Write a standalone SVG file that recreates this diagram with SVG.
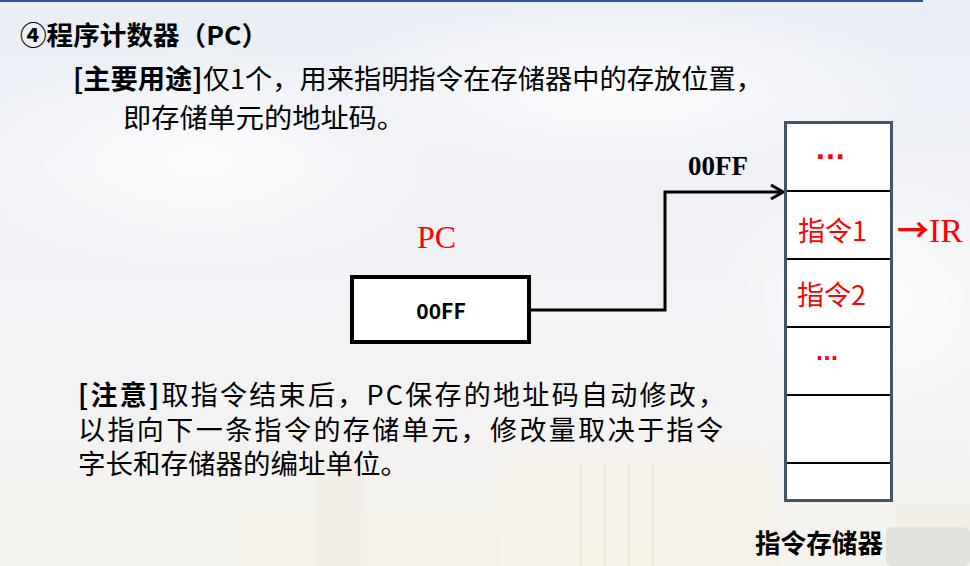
<svg xmlns="http://www.w3.org/2000/svg" width="970" height="566" viewBox="0 0 970 566">
  <defs>
    <linearGradient id="sky" x1="0" y1="0" x2="0" y2="1">
      <stop offset="0" stop-color="#eaeef5"/>
      <stop offset="0.55" stop-color="#f2f3f6"/>
      <stop offset="1" stop-color="#f4f2ed"/>
    </linearGradient>
    <radialGradient id="cloud" cx="0.5" cy="0.5" r="0.5">
      <stop offset="0" stop-color="#ffffff" stop-opacity="0.8"/>
      <stop offset="1" stop-color="#ffffff" stop-opacity="0"/>
    </radialGradient>
    <linearGradient id="fadeUp" x1="0" y1="0" x2="0" y2="1">
      <stop offset="0" stop-color="#f7f1e2" stop-opacity="0"/>
      <stop offset="1" stop-color="#f7f1e2" stop-opacity="1"/>
    </linearGradient>
    <marker id="chevron" viewBox="0 0 14 16" refX="13" refY="8" markerWidth="14" markerHeight="16" markerUnits="userSpaceOnUse" orient="auto">
      <polyline points="1,1 13,8 1,15" fill="none" stroke="#000" stroke-width="3"/>
    </marker>
    <style>
      .cjk { font-family: "Noto Sans CJK SC", "Noto Sans", sans-serif; }
      .body { font-size: 27px; fill: #000; }
      .b { font-weight: bold; }
      .red { fill: #ff0000; }
      .serif { font-family: "Liberation Serif", "Times New Roman", serif; }
      .cellLine { stroke: #000; stroke-width: 2; }
      .dots { font-family: "Liberation Sans", Arial, sans-serif; font-weight: bold; fill: #ff0000; }
    </style>
  </defs>

  <!-- backdrop: hazy sky with faint campus buildings at the bottom -->
  <rect x="0" y="0" width="970" height="566" fill="url(#sky)"/>
  <ellipse cx="200" cy="160" rx="260" ry="110" fill="url(#cloud)"/>
  <ellipse cx="620" cy="90" rx="300" ry="90" fill="url(#cloud)"/>
  <ellipse cx="880" cy="300" rx="160" ry="140" fill="url(#cloud)"/>
  <g opacity="0.6">
    <rect x="240" y="470" width="540" height="96" fill="url(#fadeUp)"/>
    <rect x="500" y="452" width="270" height="114" fill="#f8f3e6" opacity="0.7"/>
    <rect x="316" y="462" width="50" height="104" fill="#f0ebde" opacity="0.7"/>
    <rect x="580" y="462" width="2" height="104" fill="#ebe3d0"/>
    <rect x="604" y="462" width="2" height="104" fill="#ebe3d0"/>
    <rect x="628" y="462" width="2" height="104" fill="#ebe3d0"/>
    <rect x="652" y="462" width="2" height="104" fill="#ebe3d0"/>
    <rect x="886" y="527" width="84" height="39" rx="6" fill="#d6d6d4"/>
    <rect x="896" y="505" width="74" height="22" fill="#efebe2"/>
  </g>

  <!-- header rule -->
  <rect x="0" y="0" width="923" height="2" fill="#2f5597"/>

  <!-- heading and description -->
  <g id="heading">
    <text class="cjk b" x="20" y="45" font-size="26" textLength="248" lengthAdjust="spacingAndGlyphs">④程序计数器（PC）</text>
    <text class="cjk body" x="73" y="89" textLength="690" lengthAdjust="spacingAndGlyphs"><tspan class="b">[主要用途]</tspan>仅1个，用来指明指令在存储器中的存放位置，</text>
    <text class="cjk body" x="123" y="128" textLength="282" lengthAdjust="spacingAndGlyphs">即存储单元的地址码。</text>
  </g>

  <!-- note paragraph -->
  <g id="note">
    <text class="cjk body" x="78" y="405" textLength="647" lengthAdjust="spacing"><tspan class="b">[注意]</tspan>取指令结束后，PC保存的地址码自动修改，</text>
    <text class="cjk body" x="78" y="440" textLength="645" lengthAdjust="spacing">以指向下一条指令的存储单元，修改量取决于指令</text>
    <text class="cjk body" x="78" y="474" textLength="330" lengthAdjust="spacingAndGlyphs">字长和存储器的编址单位。</text>
  </g>

  <!-- program counter register -->
  <g id="pc">
    <text class="serif red" x="417" y="248" font-size="32">PC</text>
    <rect x="352" y="277" width="177" height="65" fill="#ffffff" stroke="#000" stroke-width="4"/>
    <text class="cjk b" x="441" y="319" font-size="21" text-anchor="middle">00FF</text>
  </g>

  <!-- instruction memory -->
  <g id="memory">
    <rect x="785.5" y="122.5" width="106" height="378" fill="#ffffff" stroke="#44546a" stroke-width="3"/>
    <line class="cellLine" x1="787" y1="191" x2="890" y2="191"/>
    <line class="cellLine" x1="787" y1="259" x2="890" y2="259"/>
    <line class="cellLine" x1="787" y1="327" x2="890" y2="327"/>
    <line class="cellLine" x1="787" y1="395" x2="890" y2="395"/>
    <line class="cellLine" x1="787" y1="463" x2="890" y2="463"/>
    <text class="dots" x="816" y="159" font-size="32" letter-spacing="1">...</text>
    <text class="cjk red" x="798" y="241" font-size="27">指令1</text>
    <text class="cjk red" x="797" y="305" font-size="27">指令2</text>
    <text class="dots" x="816" y="360" font-size="25" letter-spacing="0.5">...</text>
    <text class="cjk b" x="755" y="553" font-size="25.6" textLength="128" lengthAdjust="spacingAndGlyphs">指令存储器</text>
  </g>

  <!-- output to the instruction register -->
  <g id="ir">
    <text class="red" x="897" y="242" font-size="34"><tspan font-family="'Noto Sans CJK SC', sans-serif" font-weight="bold" font-size="32">→</tspan><tspan font-family="'Liberation Serif', 'Times New Roman', serif">IR</tspan></text>
  </g>

  <!-- address bus from PC to memory -->
  <g id="connectors">
    <path d="M529,310 H665 V192 H783" fill="none" stroke="#000" stroke-width="3" marker-end="url(#chevron)"/>
    <text class="serif b" x="688" y="175" font-size="27">00FF</text>
  </g>
</svg>
